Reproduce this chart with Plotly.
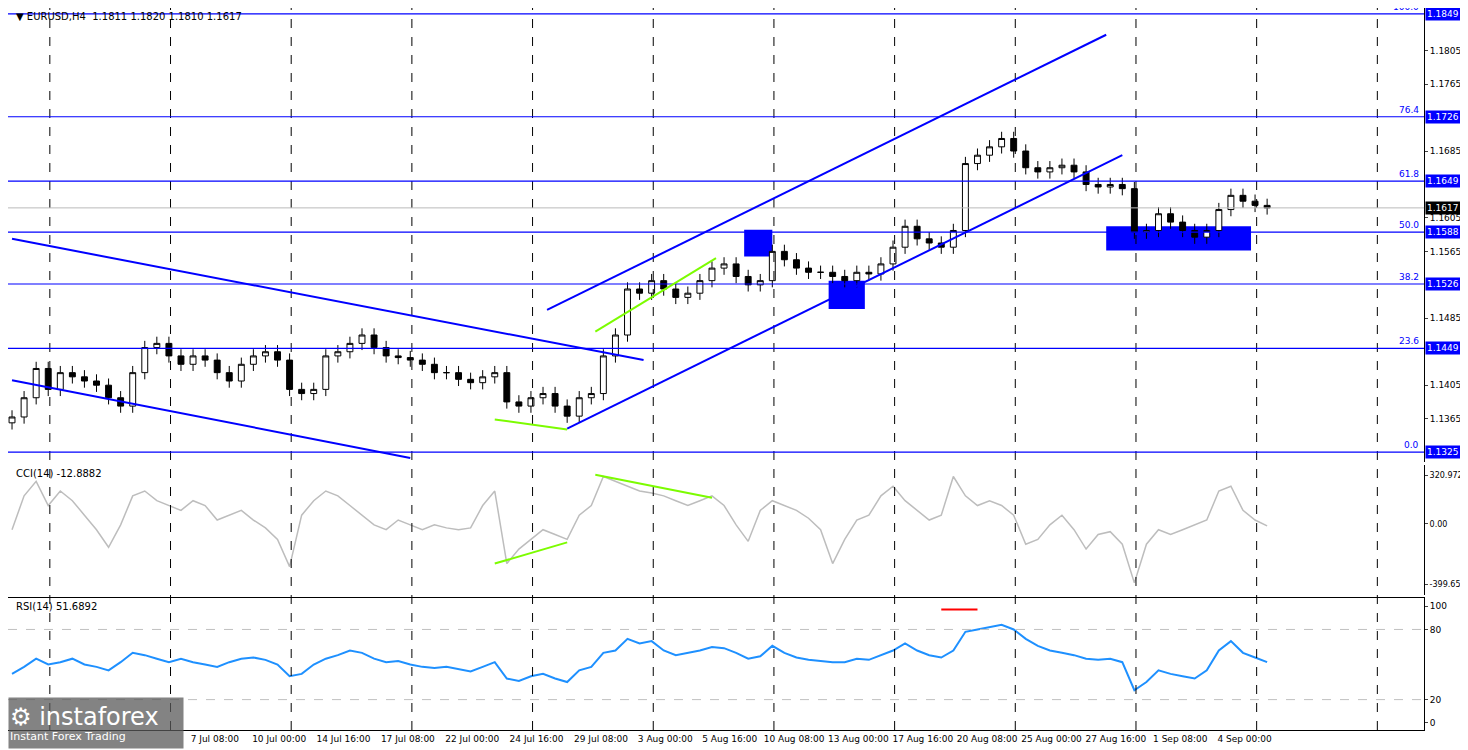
import plotly.graph_objects as go

# closes, one candle per 3 H4 bars
closes = [1.1367, 1.1390, 1.1425, 1.1400, 1.1420, 1.1415, 1.1410, 1.1405, 1.1390, 1.1380,
          1.1420, 1.1450, 1.1455, 1.1440, 1.1430, 1.1440, 1.1435, 1.1420, 1.1410, 1.1430,
          1.1440, 1.1445, 1.1435, 1.1400, 1.1395, 1.1400, 1.1440, 1.1445, 1.1455, 1.1465,
          1.1450, 1.1440, 1.1438, 1.1435, 1.1430, 1.1420, 1.1420, 1.1412, 1.1408, 1.1415,
          1.1420, 1.1385, 1.1380, 1.1390, 1.1395, 1.1380, 1.1368, 1.1390, 1.1395, 1.1440,
          1.1465, 1.1520, 1.1515, 1.1530, 1.1520, 1.1510, 1.1515, 1.1530, 1.1545, 1.1550,
          1.1535, 1.1525, 1.1530, 1.1565, 1.1555, 1.1545, 1.1540, 1.1540, 1.1535, 1.1530,
          1.1540, 1.1538, 1.1550, 1.1570, 1.1595, 1.1580, 1.1575, 1.1570, 1.1590, 1.1670,
          1.1680, 1.1690, 1.1700, 1.1685, 1.1665, 1.1660, 1.1665, 1.1668, 1.1660, 1.1645,
          1.1642, 1.1645, 1.1640, 1.1588, 1.1590, 1.1610, 1.1600, 1.1590, 1.1582, 1.1590,
          1.1615, 1.1632, 1.1625, 1.1620, 1.1617]
opens = [1.1360] + closes[:-1]

cci = [-38, 186, 282, 122, 218, 154, 58, -38, -154, -6, 186, 218, 154, 122, 90, 154, 122, 26,
       58, 90, 26, -26, -102, -282, 58, 154, 218, 186, 122, 58, -6, -38, 26, -6, -38, -6, -26,
       -38, -26, 122, 218, -262, -166, -102, -38, -70, -102, 58, 122, 314, 282, 250, 218, 205,
       186, 154, 122, 154, 186, 122, -6, -115, 90, 154, 122, 90, 38, -38, -262, -102, 26, 58,
       186, 250, 154, 90, 26, 58, 314, 186, 122, 154, 122, 58, -134, -102, -6, 58, -38, -166,
       -70, -51, -134, -390, -134, -38, -70, -38, -6, 26, 218, 250, 90, 26, -13]

rsi = [42, 48, 55, 50, 52, 55, 50, 48, 45, 52, 60, 58, 55, 52, 55, 52, 50, 48, 52, 55, 56,
       54, 50, 40, 42, 50, 55, 58, 62, 60, 55, 52, 53, 50, 48, 47, 48, 46, 44, 48, 52, 38,
       36, 40, 42, 38, 35, 45, 48, 60, 62, 72, 68, 70, 62, 58, 60, 62, 65, 64, 60, 55, 57,
       66, 60, 56, 54, 53, 52, 52, 55, 54, 58, 62, 68, 62, 58, 56, 62, 78, 80, 82, 84, 80,
       72, 66, 62, 60, 58, 55, 54, 55, 52, 28, 35, 45, 42, 40, 38, 45, 62, 70, 60, 56, 52]

fib_levels = [1.1849, 1.1726, 1.1649, 1.1588, 1.1526, 1.1449, 1.1325]
fib_names = ["100.0", "76.4", "61.8", "50.0", "38.2", "23.6", "0.0"]
last_price = 1.1617
price_ticks = [1.1365, 1.1405, 1.1485, 1.1565, 1.1605, 1.1685, 1.1765, 1.1805]

tick_labels = ["7 Jul 08:00", "10 Jul 00:00", "14 Jul 16:00", "17 Jul 08:00", "22 Jul 00:00",
               "24 Jul 16:00", "29 Jul 08:00", "3 Aug 00:00", "5 Aug 16:00", "10 Aug 08:00",
               "13 Aug 00:00", "17 Aug 16:00", "20 Aug 08:00", "25 Aug 00:00", "27 Aug 16:00",
               "1 Sep 08:00", "4 Sep 00:00"]
tick_pos = [50.4 + 16 * i for i in range(len(tick_labels))]
grid_pos = [9.4 + 30 * i for i in range(12)]

# trend lines: (x0, y0, x1, y1) in bars / price
channels = [(0, 1.1580, 157, 1.1435), (0, 1.1411, 99, 1.1318),
            (133, 1.1495, 272, 1.1824), (138, 1.1353, 276, 1.1680)]
boxes = [(182, 1.1559, 189, 1.1591), (203, 1.1496, 212, 1.1530), (272, 1.1566, 308, 1.1595)]
green_price = [(120, 1.1364, 138, 1.1352), (145, 1.1469, 175, 1.1557)]
green_cci = [(120, -262, 138, -122), (145, 326, 174, 173)]

xs = [3 * i for i in range(len(closes))]
highs = [max(o, c) + 0.0008 for o, c in zip(opens, closes)]
lows = [min(o, c) - 0.0008 for o, c in zip(opens, closes)]

fig = go.Figure()
fig.add_trace(go.Candlestick(x=xs, open=opens, high=highs, low=lows, close=closes,
                             increasing=dict(line=dict(color="black", width=1), fillcolor="white"),
                             decreasing=dict(line=dict(color="black", width=1), fillcolor="black"),
                             whiskerwidth=0, showlegend=False, xaxis="x", yaxis="y"))
fig.add_trace(go.Scatter(x=[3 * i for i in range(len(cci))], y=cci, mode="lines",
                         line=dict(color="#bdbdbd", width=1.5), showlegend=False, yaxis="y2"))
fig.add_trace(go.Scatter(x=[3 * i for i in range(len(rsi))], y=rsi, mode="lines",
                         line=dict(color="#1e90ff", width=2), showlegend=False, yaxis="y3"))

shapes = []
for g in grid_pos:
    shapes.append(dict(type="line", xref="x", yref="paper", x0=g, x1=g, y0=0, y1=1,
                       line=dict(color="black", width=1, dash="dash")))
for lv in fib_levels:
    shapes.append(dict(type="line", xref="paper", yref="y", x0=0, x1=1, y0=lv, y1=lv,
                       line=dict(color="#0000ff", width=1.2)))
shapes.append(dict(type="line", xref="paper", yref="y", x0=0, x1=1, y0=last_price, y1=last_price,
                   line=dict(color="#bbbbbb", width=1)))
for x0, y0, x1, y1 in channels:
    shapes.append(dict(type="line", xref="x", yref="y", x0=x0, y0=y0, x1=x1, y1=y1,
                       line=dict(color="#0000ff", width=2)))
for x0, y0, x1, y1 in boxes:
    shapes.append(dict(type="rect", xref="x", yref="y", x0=x0, y0=y0, x1=x1, y1=y1,
                       fillcolor="#0000ff", line=dict(width=0), layer="below"))
for x0, y0, x1, y1 in green_price:
    shapes.append(dict(type="line", xref="x", yref="y", x0=x0, y0=y0, x1=x1, y1=y1,
                       line=dict(color="#7cfc00", width=2)))
for x0, y0, x1, y1 in green_cci:
    shapes.append(dict(type="line", xref="x", yref="y2", x0=x0, y0=y0, x1=x1, y1=y1,
                       line=dict(color="#7cfc00", width=2)))
shapes.append(dict(type="line", xref="x", yref="y3", x0=231, x1=240, y0=97, y1=97,
                   line=dict(color="red", width=2)))
for lv in [80, 20]:
    shapes.append(dict(type="line", xref="paper", yref="y3", x0=0, x1=1, y0=lv, y1=lv,
                       line=dict(color="#c0c0c0", width=1, dash="dash")))

ann = []
for lv, nm in zip(fib_levels, fib_names):
    ann.append(dict(x=0.998, xref="paper", y=lv, yref="y", text=nm, showarrow=False,
                    xanchor="right", yanchor="bottom", font=dict(color="#0000ff", size=9)))
    ann.append(dict(x=1.001, xref="paper", y=lv, yref="y", text="%.4f" % lv, showarrow=False,
                    xanchor="left", bgcolor="#0000ff", borderpad=1,
                    font=dict(color="white", size=9)))
ann.append(dict(x=1.001, xref="paper", y=last_price, yref="y", text="%.4f" % last_price,
                showarrow=False, xanchor="left", bgcolor="black", borderpad=1,
                font=dict(color="white", size=9)))
ann.append(dict(x=0.004, xref="paper", y=0.999, yref="paper", showarrow=False, xanchor="left",
                yanchor="top", text="▼ EURUSD,H4  1.1811 1.1820 1.1810 1.1617",
                font=dict(size=10, color="black")))
ann.append(dict(x=0.004, xref="paper", y=0.366, yref="paper", showarrow=False, xanchor="left",
                yanchor="top", text="CCI(14) -12.8882", font=dict(size=10, color="black")))
ann.append(dict(x=0.004, xref="paper", y=0.182, yref="paper", showarrow=False, xanchor="left",
                yanchor="top", text="RSI(14) 51.6892", font=dict(size=10, color="black")))
ann.append(dict(x=0, xref="paper", y=-0.027, yref="paper", showarrow=False, xanchor="left",
                yanchor="bottom", align="left", bgcolor="rgba(90,90,90,0.75)",
                text="<span style='font-size:24px'>⚙ instaforex</span><br>Instant Forex Trading",
                font=dict(color="white", size=11), width=172, height=48))

axis_common = dict(showline=True, linecolor="black", mirror=True, showgrid=False, zeroline=False,
                   side="right", ticks="outside", ticklen=3, automargin=False,
                   tickfont=dict(size=9, color="black"))
fig.update_layout(
    width=1466, height=742,
    margin=dict(l=0, r=50, t=0, b=20),
    paper_bgcolor="white", plot_bgcolor="white",
    font=dict(family="DejaVu Sans"),
    xaxis=dict(range=[-1, 351], tickvals=tick_pos, ticktext=tick_labels, showgrid=False,
               showline=True, linecolor="black", mirror=True, zeroline=False, tickangle=0,
               automargin=False, rangeslider=dict(visible=False),
               tickfont=dict(size=9, color="black"), anchor="y3"),
    yaxis=dict(domain=[0.371, 1], range=[1.1313, 1.1856],
               tickvals=price_ticks, tickformat=".4f", **axis_common),
    yaxis2=dict(domain=[0.187, 0.367], range=[-470, 390],
                tickvals=[320.9724, 0, -399.652], ticktext=["320.9724", "0.00", "-399.652"],
                **dict(axis_common, tickfont=dict(size=8, color="black"))),
    yaxis3=dict(domain=[0, 0.183], range=[-6, 107], tickvals=[100, 80, 20, 0], **axis_common),
    shapes=shapes, annotations=ann,
)
fig.update_traces(xaxis="x")
fig.write_html("out.html")
